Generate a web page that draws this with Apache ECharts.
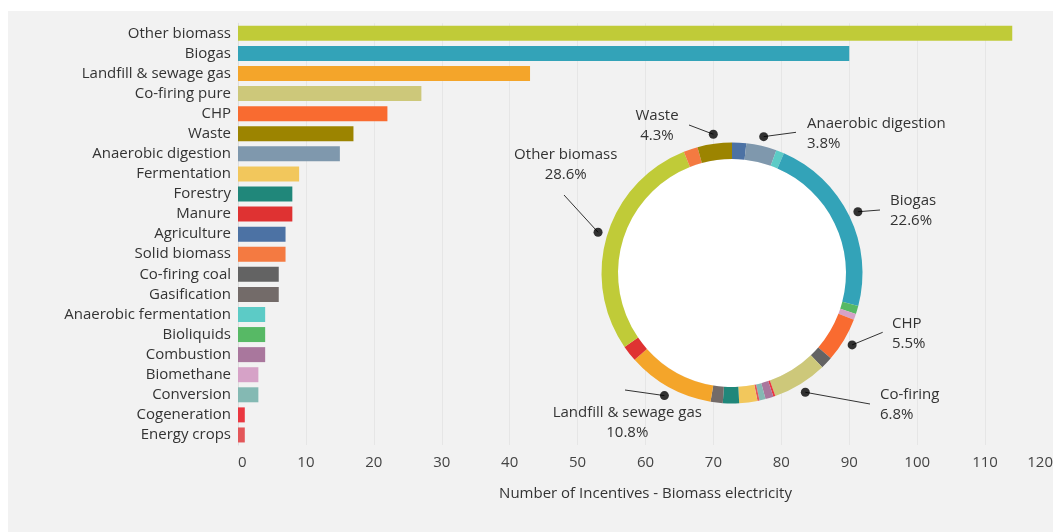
<!DOCTYPE html>
<html><head><meta charset="utf-8">
<script src="https://cdn.jsdelivr.net/npm/echarts@6/dist/echarts.min.js"></script>
<style>html,body{margin:0;padding:0;background:#fff}#c{width:1053px;height:532px}</style>
</head><body><div id="c"></div>
<script>
// ---- data ----
const categories = ['Other biomass','Biogas','Landfill & sewage gas','Co-firing pure','CHP','Waste','Anaerobic digestion','Fermentation','Forestry','Manure','Agriculture','Solid biomass','Co-firing coal','Gasification','Anaerobic fermentation','Bioliquids','Combustion','Biomethane','Conversion','Cogeneration','Energy crops'];
const values = [114,90,43,27,22,17,15,9,8,8,7,7,6,6,4,4,4,3,3,1,1];
const colors = ['#c0cb38','#33a3b8','#f4a52a','#cdc87a','#f96b30','#9c8400','#7f98ad','#f2c75c','#20877a','#df3232','#4c72a4','#f47a41','#636363','#736b69','#5ccbc6','#57b965','#a9779d','#d6a2c7','#84b9b3','#ea3740','#e35659'];
const xTickMin = 0, xTickMax = 120, xTickStep = 10;
const axisTitle = 'Number of Incentives - Biomass electricity';
// donut callout texts
const calloutText = {'Other biomass':'Other biomass','Biogas':'Biogas','Landfill & sewage gas':'Landfill & sewage gas','Co-firing pure':'Co-firing','CHP':'CHP','Waste':'Waste','Anaerobic digestion':'Anaerobic digestion'};

// ---- layout (positions/styles) ----
const FONT = '"Open Sans", "Noto Sans", sans-serif';
const TXT = '#333333';
const CX = 732, CY = 273, R_OUT = 130.5, R_IN = 114, R_DOT = 140;
// callout text anchor (x,y,align) and leader-line end (lx,ly) in page pixels
const calloutLayout = {
  'Waste':                 {x:657,   y:126,   align:'center', lx:689,   ly:125},
  'Anaerobic digestion':   {x:807,   y:133.5, align:'left',   lx:796,   ly:132.3},
  'Biogas':                {x:890,   y:210.7, align:'left',   lx:880,   ly:210},
  'CHP':                   {x:892,   y:333.3, align:'left',   lx:882.7, ly:332.3},
  'Co-firing pure':        {x:880,   y:404.3, align:'left',   lx:870,   ly:404},
  'Landfill & sewage gas': {x:627.3, y:422.5, align:'center', lx:625,   ly:390},
  'Other biomass':         {x:565.7, y:165,   align:'center', lx:564,   ly:195}
};

// donut order: alphabetical, clockwise from 12 o'clock
const donutOrder = categories.map((c,i)=>i).sort((a,b)=> categories[a] < categories[b] ? -1 : 1);
const total = values.reduce((s,v)=>s+v,0);
const midVal = {};
let cum = 0;
donutOrder.forEach(i => { midVal[categories[i]] = cum + values[i]/2; cum += values[i]; });
function dotPos(name){
  const a = midVal[name] / total * 2 * Math.PI;
  return [CX + R_DOT*Math.sin(a), CY - R_DOT*Math.cos(a)];
}

const pieData = donutOrder.map(i => {
  const isC = calloutText[categories[i]] !== undefined;
  return {name: categories[i], value: values[i], itemStyle:{color: colors[i]},
    label:{show:isC}, labelLine:{show:isC}};
});
const dotData = Object.keys(calloutText).map(n => ({name:n, value:[R_DOT, midVal[n]]}));

const chart = echarts.init(document.getElementById('c'));
chart.setOption({
  animation:false,
  backgroundColor:'#ffffff',
  textStyle:{fontFamily:FONT},
  graphic:[{type:'rect', z:-100, silent:true, shape:{x:8,y:11,width:1045,height:521}, style:{fill:'#f2f2f2'}}],
  grid:{left:238, right:0, top:23.3, bottom:87, containLabel:false, outerBoundsMode:'none'},
  xAxis:{type:'value', min:xTickMin, max:xTickMax, interval:xTickStep,
    name:axisTitle, nameLocation:'middle', nameGap:41,
    nameTextStyle:{fontSize:15, color:TXT, fontFamily:FONT},
    axisLine:{show:false}, axisTick:{show:false},
    axisLabel:{fontSize:15, color:'#444', fontFamily:FONT, margin:10, alignMinLabel:'left', alignMaxLabel:'right'},
    splitLine:{show:true, lineStyle:{color:'#e6e6e6', width:1}}},
  yAxis:{type:'category', data:categories, inverse:true,
    axisTick:{show:false}, axisLine:{show:true, lineStyle:{color:'#dedede'}},
    axisLabel:{fontSize:15, color:TXT, fontFamily:FONT, margin:7}},
  polar:{center:[CX,CY], radius:150},
  angleAxis:{type:'value', min:0, max:total, startAngle:90, clockwise:true, show:false},
  radiusAxis:{type:'value', min:0, max:150, show:false},
  series:[
    {type:'bar', barWidth:15, silent:true,
      data: values.map((v,i)=>({value:v, itemStyle:{color:colors[i]}}))},
    {type:'pie', silent:true, center:[CX,CY], radius:[0,R_IN], label:{show:false}, labelLine:{show:false},
      data:[{value:1, itemStyle:{color:'#ffffff'}}], z:1},
    {type:'pie', silent:true, center:[CX,CY], radius:[R_IN,R_OUT], startAngle:90, clockwise:true,
      avoidLabelOverlap:false, percentPrecision:1, z:3,
      label:{position:'outside', fontSize:15, color:TXT, fontFamily:FONT, lineHeight:20,
        formatter: p => calloutText[p.name] + '\n' + p.percent.toFixed(1) + '%'},
      labelLine:{length:10, length2:10, lineStyle:{color:'#333', width:1}},
      labelLayout: function(params){
        const name = pieData[params.dataIndex].name;
        const L = calloutLayout[name];
        if(!L) return {};
        const d = dotPos(name);
        const e = [L.lx, L.ly];
        return {x:L.x, y:L.y, align:L.align, verticalAlign:'middle',
          labelLinePoints:[[d[0],d[1]], e, e]};
      },
      data: pieData},
    {type:'scatter', coordinateSystem:'polar', silent:true, symbol:'circle', symbolSize:9, z:5,
      itemStyle:{color:'#000'}, data: dotData}
  ]
});
</script></body></html>
